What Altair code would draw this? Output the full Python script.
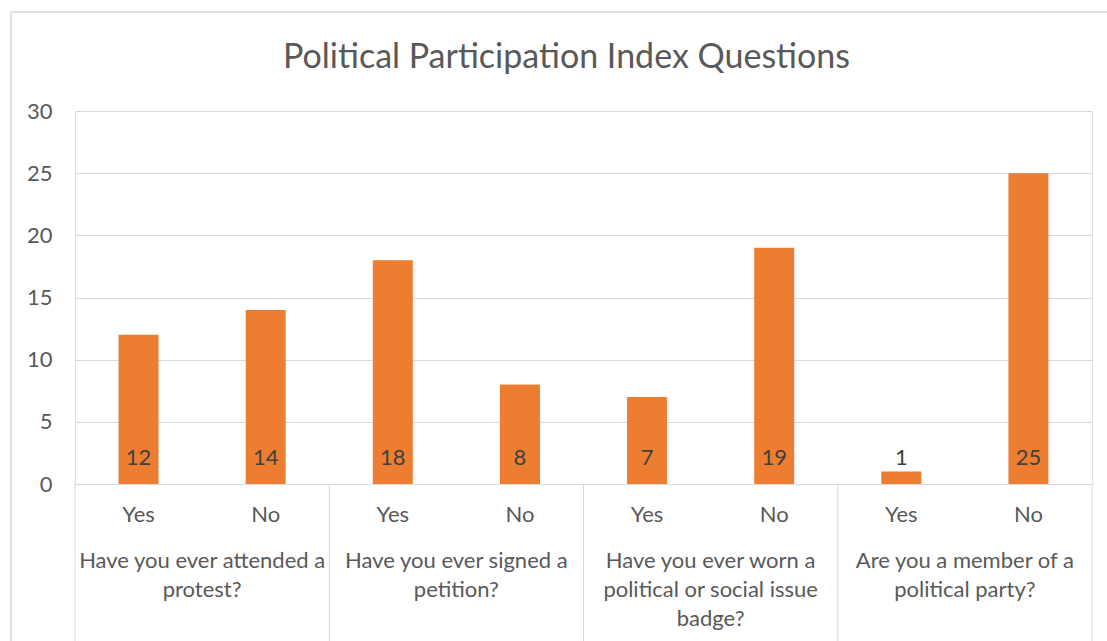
import altair as alt
import pandas as pd

# Survey responses: four yes/no questions, counts of respondents
questions = [
    "Have you ever attended a\nprotest?",
    "Have you ever signed a\npetition?",
    "Have you ever worn a\npolitical or social issue\nbadge?",
    "Are you a member of a\npolitical party?",
]
answers = ["Yes", "No", "Yes", "No", "Yes", "No", "Yes", "No"]
counts = [12, 14, 18, 8, 7, 19, 1, 25]
y_ticks = [0, 5, 10, 15, 20, 25, 30]

FONT = "Lato"
TEXT = "#595959"
LINE = "#D9D9D9"
FS = 22
W, H = 1017, 373

bars_df = pd.DataFrame({
    "pos": [i + 0.5 for i in range(len(counts))],
    "answer": answers,
    "count": counts,
    "question": [questions[i // 2] for i in range(len(counts))],
})
groups_df = pd.DataFrame({
    "mid": [2 * g + 1 for g in range(len(questions))],
    "question": questions,
})
edges_df = pd.DataFrame({"edge": [0, 2, 4, 6, 8]})

xscale = alt.Scale(domain=[0, 8], nice=False, zero=False, padding=0)
yscale = alt.Scale(domain=[0, 30], nice=False)

base = alt.Chart(bars_df)

bars = base.mark_bar(size=40, color="#ED7D31").encode(
    x=alt.X("pos:Q", scale=xscale,
            axis=alt.Axis(title=None, labels=False, ticks=False, grid=False,
                          domainColor=LINE, domainWidth=1)),
    y=alt.Y("count:Q", scale=yscale,
            axis=alt.Axis(title=None, values=y_ticks, domain=False, ticks=False,
                          gridColor=LINE, gridWidth=1, labelFont=FONT,
                          labelFontSize=FS, labelColor=TEXT, labelPadding=23)),
)

values = base.mark_text(font=FONT, fontSize=FS, color="#404040",
                        baseline="middle", dy=-26).encode(
    x="pos:Q",
    y=alt.datum(0),
    text="count:Q",
)

answer_labels = base.mark_text(font=FONT, fontSize=FS, color=TEXT,
                               baseline="middle").encode(
    x="pos:Q",
    y=alt.value(H + 31),
    text="answer:N",
)

group_labels = alt.Chart(groups_df).mark_text(
    font=FONT, fontSize=FS, color=TEXT, baseline="middle",
    lineBreak="\n", lineHeight=29,
).encode(
    x="mid:Q",
    y=alt.value(H + 77),
    text="question:N",
)

separators = alt.Chart(edges_df).mark_rule(color=LINE, strokeWidth=1).encode(
    x="edge:Q",
    y=alt.value(H),
    y2=alt.value(H + 170),
)

# chart-area frame (left and top edges)
frame_df = pd.DataFrame({"k": [0]})
frame_left = alt.Chart(frame_df).mark_rule(color=LINE, strokeWidth=1.5).encode(
    x=alt.value(-64), y=alt.value(-99), y2=alt.value(H + 170),
)
frame_top = alt.Chart(frame_df).mark_rule(color=LINE, strokeWidth=1.5).encode(
    x=alt.value(-64), x2=alt.value(W + 40), y=alt.value(-99),
)

chart = alt.layer(
    frame_left, frame_top, separators, bars, values, answer_labels, group_labels,
).properties(
    width=W,
    height=H,
    title=alt.TitleParams(
        "Political Participation Index Questions",
        font=FONT, fontSize=34, fontWeight="normal", color=TEXT,
        anchor="middle", dx=-17, offset=-64,
    ),
    autosize=alt.AutoSizeParams(type="none"),
    padding={"left": 75, "top": 111, "right": 15, "bottom": 157},
).configure_view(
    strokeWidth=0,
).configure(
    background="white",
)

chart.save("out.html", embed_options={"renderer": "svg", "actions": False})
